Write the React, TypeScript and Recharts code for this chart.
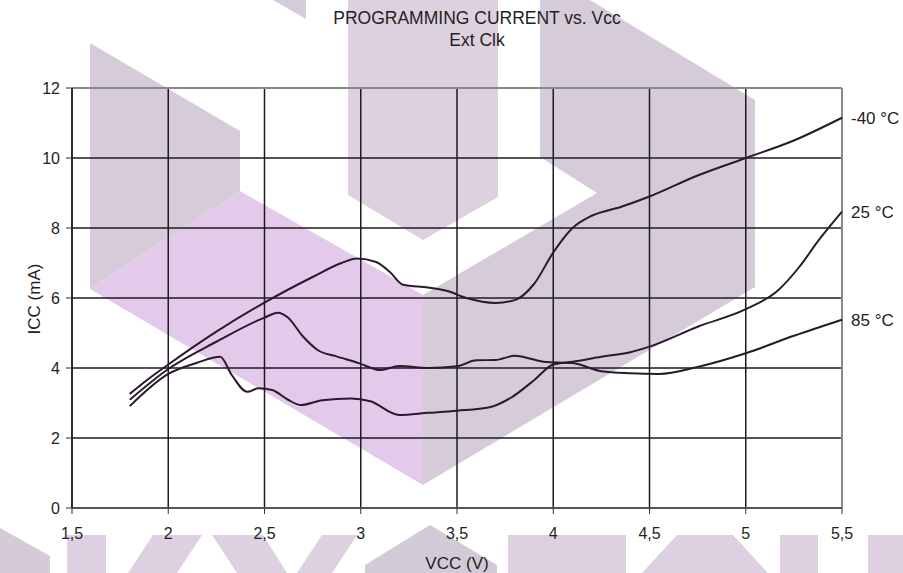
import { LineChart, Line, XAxis, YAxis, CartesianGrid, ReferenceLine, LabelList } from "recharts";

// supply voltage ticks / current ticks
const vccTicks = [1.5, 2, 2.5, 3, 3.5, 4, 4.5, 5, 5.5];
const iccTicks = [0, 2, 4, 6, 8, 10, 12];

// -40 °C
const vccCold = [1.8, 1.9, 2.0, 2.25, 2.5, 2.75, 2.9, 2.98, 3.08, 3.15, 3.22, 3.35, 3.45, 3.55, 3.7, 3.8, 3.9, 4.0, 4.1, 4.2, 4.35, 4.5, 4.75, 5.0, 5.25, 5.5];
const iccCold = [3.26, 3.7, 4.1, 5.04, 5.87, 6.6, 7.0, 7.13, 7.03, 6.75, 6.38, 6.3, 6.2, 6.0, 5.86, 5.94, 6.4, 7.3, 8.0, 8.35, 8.6, 8.9, 9.5, 10.0, 10.5, 11.15];

// 25 °C
const vccRoom = [1.8, 2.0, 2.15, 2.27, 2.33, 2.41, 2.47, 2.54, 2.62, 2.69, 2.8, 2.95, 3.05, 3.2, 3.35, 3.5, 3.67, 3.78, 3.9, 4.0, 4.1, 4.25, 4.4, 4.5, 4.75, 5.0, 5.17, 5.28, 5.38, 5.5];
const iccRoom = [2.91, 3.83, 4.15, 4.32, 3.8, 3.32, 3.42, 3.37, 3.1, 2.94, 3.08, 3.13, 3.05, 2.66, 2.72, 2.78, 2.88, 3.15, 3.65, 4.1, 4.18, 4.32, 4.45, 4.61, 5.18, 5.68, 6.23, 6.9, 7.66, 8.47];

// 85 °C
const vccHot = [1.8, 2.0, 2.25, 2.5, 2.57, 2.62, 2.7, 2.78, 2.87, 2.99, 3.1, 3.2, 3.35, 3.5, 3.6, 3.7, 3.8, 3.95, 4.1, 4.25, 4.4, 4.55, 4.75, 5.0, 5.25, 5.5];
const iccHot = [3.09, 3.97, 4.75, 5.44, 5.58, 5.45, 4.9, 4.5, 4.34, 4.14, 3.94, 4.06, 4.0, 4.05, 4.22, 4.23, 4.35, 4.18, 4.14, 3.91, 3.85, 3.83, 4.03, 4.42, 4.92, 5.38];

const toPoints = (v: number[], i: number[]) => v.map((x, k) => ({ vcc: x, icc: i[k] }));

const series = [
  { name: "-40 °C", data: toPoints(vccCold, iccCold) },
  { name: "25 °C", data: toPoints(vccRoom, iccRoom) },
  { name: "85 °C", data: toPoints(vccHot, iccHot) },
];

const FONT = "'Liberation Sans', Arial, sans-serif";
const INK = "#231f20";
const CURVE = "#2a1a2c";

// background watermark shapes
const watermark = [
  { fill: "#d6cbd9", pts: "90,43 240,131 240,191 90,289" },
  { fill: "#e3caeb", pts: "90,289 240,191 423,295 423,485" },
  { fill: "#d6cbd9", pts: "540,0 590,0 755,100 755,287 423,485 423,295 597,193 540,157" },
  { fill: "#ddd0df", pts: "348,0 498,0 498,197 423,240 348,195" },
  { fill: "#d6cbd9", pts: "273,0 306,0 306,19" },
  { fill: "#d4cbd7", pts: "0,528 50,556 50,573 0,573" },
  { fill: "#ddd0e0", pts: "67,535 106,535 106,573 67,573" },
  { fill: "#ddd0e0", pts: "128,573 153,535 202,535 177,573" },
  { fill: "#ddd0e0", pts: "212,535 263,535 287,573 237,573" },
  { fill: "#ddd0e0", pts: "297,573 322,535 357,535 332,573" },
  { fill: "#d3cad7", pts: "365,573 365,565 430,525 497,565 497,573" },
  { fill: "#ddd0e0", pts: "508,535 626,535 626,573 508,573" },
  { fill: "#ddd0e0", pts: "642,573 677,535 733,535 768,573" },
  { fill: "#ddd0e0", pts: "780,535 818,535 818,573 780,573" },
  { fill: "#ddd0e0", pts: "868,535 903,535 903,573 868,573" },
];

const endLabel = (name: string, last: number) => (p: any) =>
  p.index === last ? (
    <text x={Number(p.x) + 9} y={Number(p.y)} dy="0.35em" fill={INK} fontSize={17} fontFamily={FONT}>
      {name}
    </text>
  ) : null;

export default function App() {
  return (
    <div style={{ position: "absolute", left: 0, top: 0, width: 903, height: 573, background: "#fff" }}>
      <svg width={903} height={573} style={{ position: "absolute", left: 0, top: 0 }}>
        {watermark.map((w, k) => (
          <polygon key={k} points={w.pts} fill={w.fill} />
        ))}
      </svg>
      <div style={{ position: "absolute", left: 0, top: 0 }}>
        <LineChart width={903} height={573} margin={{ top: 88, right: 61, bottom: 0, left: 0 }}>
          <CartesianGrid stroke="#1e1a1e" strokeWidth={1.5} />
          <XAxis
            type="number"
            dataKey="vcc"
            domain={[1.5, 5.5]}
            ticks={vccTicks}
            height={65}
            tickSize={6}
            tickMargin={14}
            tickFormatter={(v: number) => String(v).replace(".", ",")}
            tick={{ fill: INK, fontSize: 16, fontFamily: FONT }}
            axisLine={{ stroke: "#555", strokeWidth: 2 }}
            tickLine={{ stroke: "#333" }}
            allowDuplicatedCategory={false}
          />
          <YAxis
            type="number"
            domain={[0, 12]}
            ticks={iccTicks}
            width={72}
            tickSize={6}
            tickMargin={6}
            tick={{ fill: INK, fontSize: 16, fontFamily: FONT }}
            axisLine={{ stroke: "#222", strokeWidth: 1.5 }}
            tickLine={{ stroke: "#333" }}
          />
          <ReferenceLine y={12} stroke="#8a8a8a" strokeWidth={2} />
          <ReferenceLine x={5.5} stroke="#8a8a8a" strokeWidth={2} />
          {series.map((s) => (
            <Line
              key={s.name}
              data={s.data}
              dataKey="icc"
              type="monotone"
              stroke={CURVE}
              strokeWidth={2}
              dot={false}
              activeDot={false}
              isAnimationActive={false}
            >
              <LabelList dataKey="icc" content={endLabel(s.name, s.data.length - 1)} />
            </Line>
          ))}
        </LineChart>
      </div>
      <svg width={903} height={573} style={{ position: "absolute", left: 0, top: 0, pointerEvents: "none" }}>
        <text x={477} y={24} textAnchor="middle" fill={INK} fontSize={17.5} fontFamily={FONT}>
          PROGRAMMING CURRENT vs. Vcc
        </text>
        <text x={477} y={46} textAnchor="middle" fill={INK} fontSize={17.5} fontFamily={FONT}>
          Ext Clk
        </text>
        <text x={457} y={569} textAnchor="middle" fill={INK} fontSize={17} fontFamily={FONT}>
          VCC (V)
        </text>
        <text
          x={40}
          y={299}
          textAnchor="middle"
          transform="rotate(-90 40 299)"
          fill={INK}
          fontSize={17}
          fontFamily={FONT}
        >
          ICC (mA)
        </text>
      </svg>
    </div>
  );
}
